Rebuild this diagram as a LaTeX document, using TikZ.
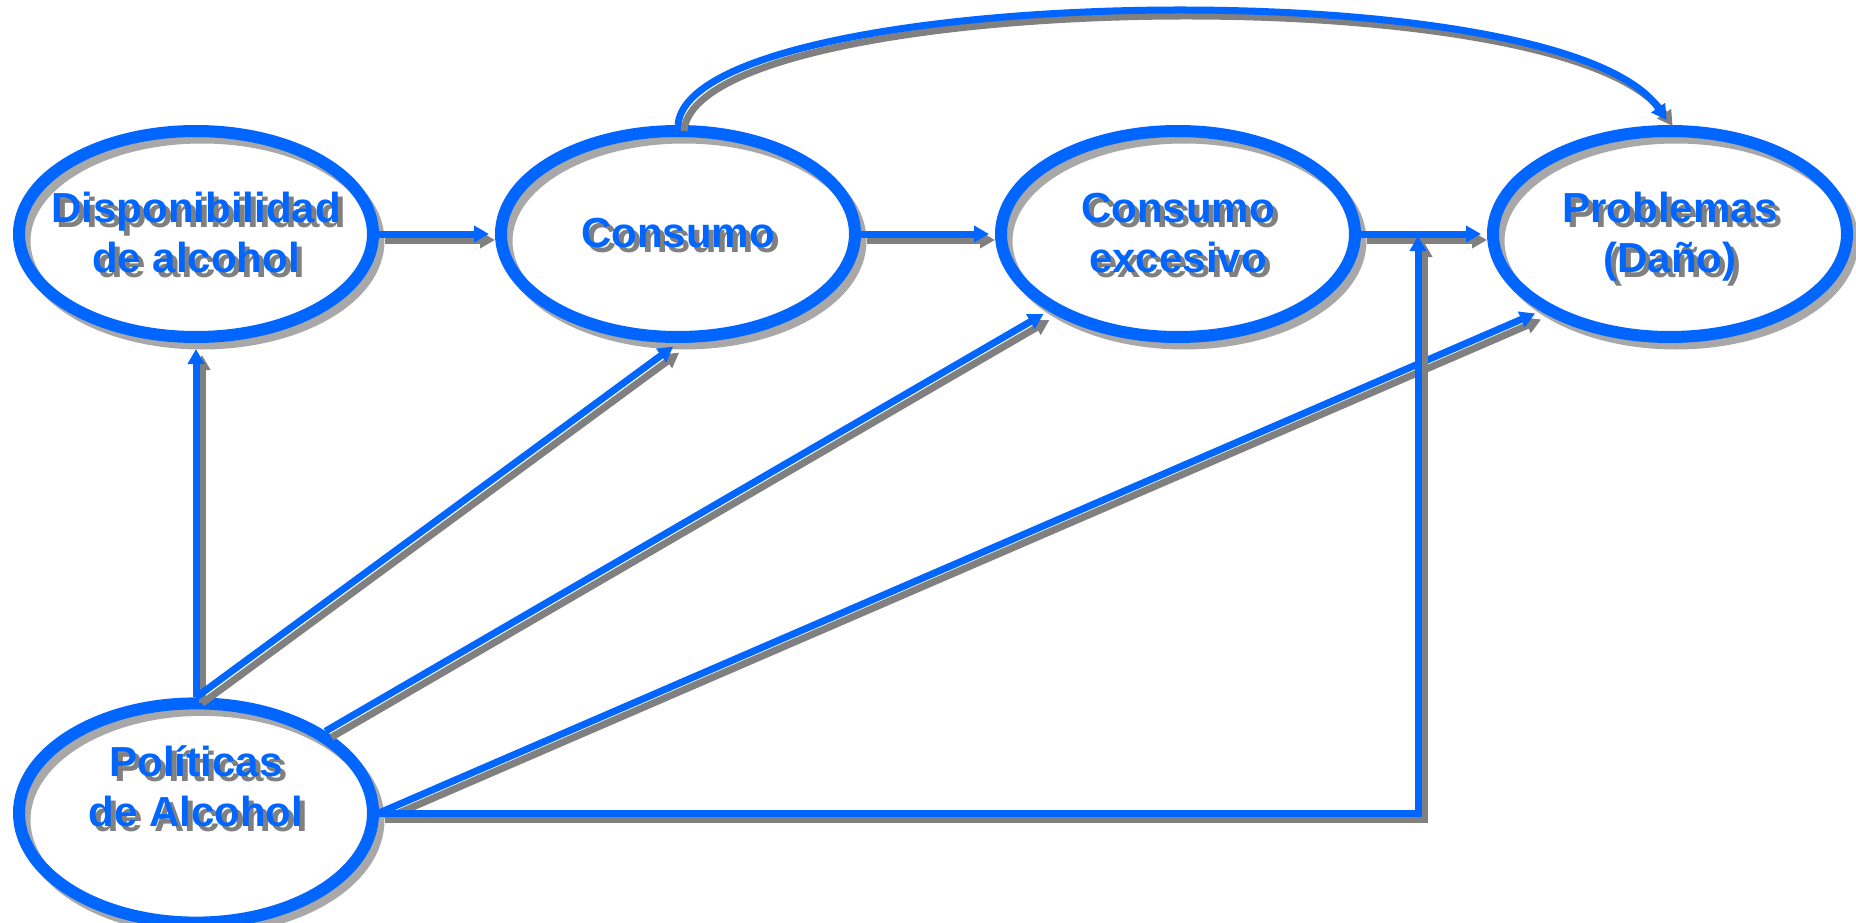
\documentclass[tikz,border=0pt]{standalone}
\usepackage{fontspec}
\setmainfont{Liberation Sans}
\usetikzlibrary{shapes.geometric,arrows.meta}
\definecolor{azul}{HTML}{0066FF}
\definecolor{gris}{HTML}{808080}
\definecolor{grisclaro}{HTML}{A8A8A8}
\newcommand{\bloque}[1]{\begin{tabular}{@{}c@{}}#1\end{tabular}}
\newcommand{\etiq}[1]{\makebox[0pt]{\raisebox{-6pt}[\height][\depth]{\rlap{\hspace{5pt}\raisebox{-5pt}{\color{gris}\bloque{#1}}}\bloque{#1}}}}

\begin{document}
\begin{tikzpicture}
  [x=1pt,y=-1pt,
   burbuja/.style={ellipse,draw=azul,line width=12pt,inner sep=0pt,
     minimum width=354pt,minimum height=206pt,text=azul,
     font=\fontsize{42}{50}\selectfont\bfseries,
     preaction={draw=grisclaro,line width=11pt,transform canvas={shift={(6pt,-7pt)}}}},
   punta/.style={-{Triangle[length=15pt,width=16pt]}},
   flecha/.style={draw=azul,line width=7pt,shorten >=6pt,punta,
     preaction={draw=gris,line width=7pt,punta,transform canvas={shift={(6pt,-6pt)}}}}]
  \fill[white] (0,0) rectangle (1856,923);
  \useasboundingbox (0,0) rectangle (1856,923);
  \node[burbuja] (disp) at (196,234)  {\etiq{Disponibilidad\\de alcohol}};
  \node[burbuja] (cons) at (678,234)  {\etiq{Consumo}};
  \node[burbuja] (exc)  at (1178,234) {\etiq{Consumo\\excesivo}};
  \node[burbuja] (prob) at (1670,234) {\etiq{Problemas\\(Daño)}};
  \node[burbuja] (pol)  at (196,813)  {\etiq{Políticas\\de Alcohol\\\mbox{}}};
  \coordinate (j) at (1418,234);

  \foreach \from/\to in {disp/cons,cons/exc,exc/prob,pol.north/disp.south,pol.north/cons.south,pol.north east/exc.south west,pol.east/prob.south west}
    \draw[flecha] (\from) -- (\to);
  \draw[flecha,shorten >=2pt] (pol.east) -| (j);
  \draw[flecha] (cons.north) .. controls (690,-15) and (1560,-35) .. (prob.north);
\end{tikzpicture}
\end{document}
